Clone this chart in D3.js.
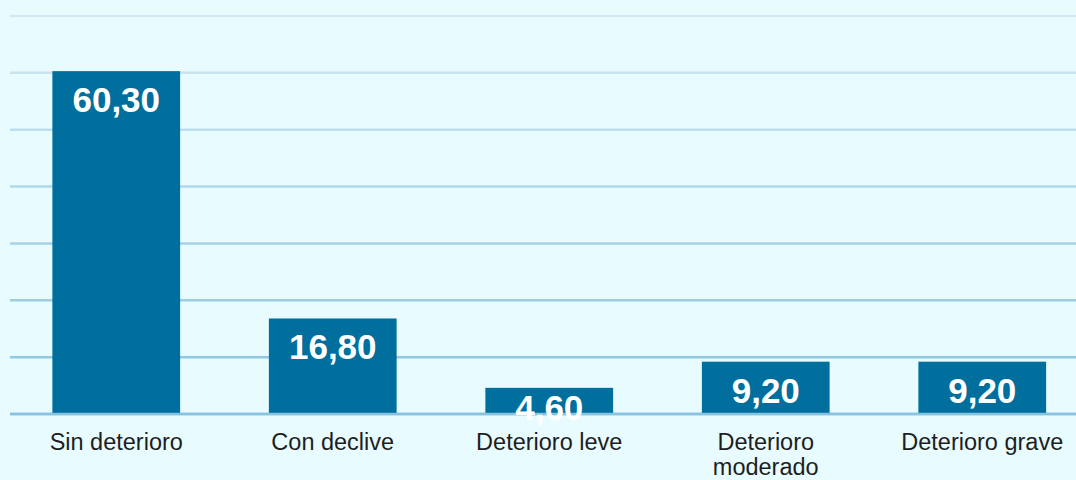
<!DOCTYPE html>
<html>
<head>
<meta charset="utf-8">
<script src="https://cdn.jsdelivr.net/npm/d3@7"></script>
<style>
  html, body { margin: 0; padding: 0; background: #e8fbff; }
  svg { display: block; font-family: 'Liberation Sans', Arial, sans-serif; }
</style>
</head>
<body>
<div id="root"></div>
<script>
const categories = ['Sin deterioro', 'Con declive', 'Deterioro leve', 'Deterioro moderado', 'Deterioro grave']
const values = [60.3, 16.8, 4.6, 9.2, 9.2]
const gridTicks = [0, 10, 20, 30, 40, 50, 60, 70]

const width = 1076
const height = 480

const svg = d3.select('#root').append('svg')
  .attr('width', width)
  .attr('height', height)

svg.append('rect')
  .attr('width', width)
  .attr('height', height)
  .attr('fill', '#e8fbff')

const x = d3.scaleBand()
  .domain(categories)
  .range([8, 1090.5])
  .paddingInner(0.41)
  .paddingOuter(0.205)

const y = d3.scaleLinear().domain([0, 70]).range([414, 16])

// grid gets lighter towards the top
const gridColor = d3.scaleLinear().domain([0, 70]).range(['#86c3df', '#d3e9f2'])

svg.append('g')
  .selectAll('line')
  .data(gridTicks)
  .join('line')
  .attr('x1', 10)
  .attr('x2', width)
  .attr('y1', d => y(d))
  .attr('y2', d => y(d))
  .attr('stroke', d => gridColor(d))
  .attr('stroke-width', 2.5)

svg.append('g')
  .selectAll('rect')
  .data(values)
  .join('rect')
  .attr('x', (d, i) => x(categories[i]))
  .attr('y', d => y(d))
  .attr('width', x.bandwidth())
  .attr('height', d => y(0) - y(d))
  .attr('fill', '#006f9e')

// baseline on top of bars
svg.append('line')
  .attr('x1', 10)
  .attr('x2', width)
  .attr('y1', y(0))
  .attr('y2', y(0))
  .attr('stroke', '#86c3df')
  .attr('stroke-width', 2.5)

const fmt = v => d3.format('.2f')(v).replace('.', ',')

svg.append('g')
  .selectAll('text')
  .data(values)
  .join('text')
  .attr('x', (d, i) => x(categories[i]) + x.bandwidth() / 2)
  .attr('y', d => Math.min(y(d) + 41, y(0) + 6))
  .attr('text-anchor', 'middle')
  .attr('fill', '#fff')
  .attr('font-weight', 'bold')
  .attr('font-size', 35)
  .text(d => fmt(d))

// category labels, wrap the long one
const labels = svg.append('g')
  .selectAll('text')
  .data(categories)
  .join('text')
  .attr('x', d => x(d) + x.bandwidth() / 2)
  .attr('y', 450)
  .attr('text-anchor', 'middle')
  .attr('fill', '#1e1e1e')
  .attr('font-size', 23.5)

labels.each(function (d) {
  const words = d === 'Deterioro moderado' ? ['Deterioro', 'moderado'] : [d]
  const t = d3.select(this)
  words.forEach((w, i) => {
    t.append('tspan')
      .attr('x', x(d) + x.bandwidth() / 2)
      .attr('dy', i === 0 ? 0 : 25)
      .text(w)
  })
})
</script>
</body>
</html>
